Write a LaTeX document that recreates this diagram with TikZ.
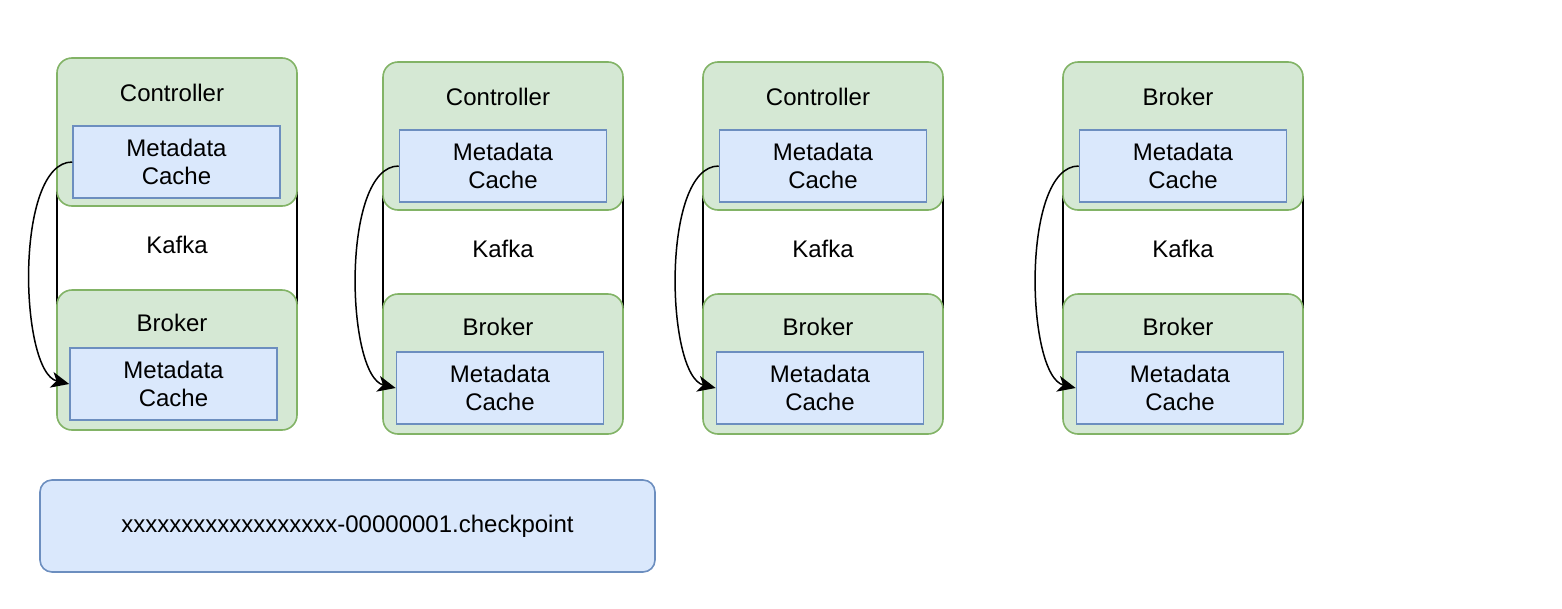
\documentclass[tikz,border=0pt]{standalone}
\usepackage{fontspec}
\setmainfont{Liberation Sans}
\usetikzlibrary{arrows.meta}
\definecolor{grnfill}{HTML}{D5E8D4}
\definecolor{grnline}{HTML}{82B366}
\definecolor{bluefill}{HTML}{DAE8FC}
\definecolor{blueline}{HTML}{6C8EBF}

\begin{document}
\begin{tikzpicture}[x=1pt,y=-1pt,
  txt/.style={font=\fontsize{24}{28}\selectfont,inner sep=0pt},
  kafkabox/.style={txt,draw=black,line width=2pt,fill=white,minimum width=240pt,minimum height=200pt},
  nodebox/.style={draw=grnline,line width=1.6pt,fill=grnfill,rounded corners=15pt,minimum width=240pt},
  cachebox/.style={txt,draw=blueline,line width=1.6pt,fill=bluefill,minimum width=207pt,minimum height=72pt,align=center},
  sync/.style={line width=1.5pt,-{Stealth[length=18pt,width=16pt,inset=5pt]}}]
\useasboundingbox (0,0) rectangle (1562,608);

% group 1
\node[kafkabox] (kafka1) at (177,245) {Kafka};
\node[nodebox,minimum height=148pt] (top1) at (177,132) {};
\node[txt] (ttl1) at (172,93) {Controller};
\node[cachebox] (mtop1) at (176.5,162) {Metadata\\Cache};
\node[nodebox,minimum height=140pt] (bot1) at (177,360) {};
\node[txt] (btl1) at (172,323) {Broker};
\node[cachebox] (mbot1) at (173.5,384) {Metadata\\Cache};
\draw[sync] (mtop1.west) .. controls +(-58,0) and +(-50,-12) .. (mbot1.west);

% group 2
\node[kafkabox] (kafka2) at (503,249) {Kafka};
\node[nodebox,minimum height=148pt] (top2) at (503,136) {};
\node[txt] (ttl2) at (498,97) {Controller};
\node[cachebox] (mtop2) at (503,166) {Metadata\\Cache};
\node[nodebox,minimum height=140pt] (bot2) at (503,364) {};
\node[txt] (btl2) at (498,327) {Broker};
\node[cachebox] (mbot2) at (500,388) {Metadata\\Cache};
\draw[sync] (mtop2.west) .. controls +(-58,0) and +(-50,-12) .. (mbot2.west);

% group 3
\node[kafkabox] (kafka3) at (823,249) {Kafka};
\node[nodebox,minimum height=148pt] (top3) at (823,136) {};
\node[txt] (ttl3) at (818,97) {Controller};
\node[cachebox] (mtop3) at (823,166) {Metadata\\Cache};
\node[nodebox,minimum height=140pt] (bot3) at (823,364) {};
\node[txt] (btl3) at (818,327) {Broker};
\node[cachebox] (mbot3) at (820,388) {Metadata\\Cache};
\draw[sync] (mtop3.west) .. controls +(-58,0) and +(-50,-12) .. (mbot3.west);

% group 4
\node[kafkabox] (kafka4) at (1183,249) {Kafka};
\node[nodebox,minimum height=148pt] (top4) at (1183,136) {};
\node[txt] (ttl4) at (1178,97) {Broker};
\node[cachebox] (mtop4) at (1183,166) {Metadata\\Cache};
\node[nodebox,minimum height=140pt] (bot4) at (1183,364) {};
\node[txt] (btl4) at (1178,327) {Broker};
\node[cachebox] (mbot4) at (1180,388) {Metadata\\Cache};
\draw[sync] (mtop4.west) .. controls +(-58,0) and +(-50,-12) .. (mbot4.west);

% checkpoint file
\node[txt,draw=blueline,line width=1.6pt,fill=bluefill,rounded corners=12pt,minimum width=615pt,minimum height=92pt] (chk) at (347.5,526) {xxxxxxxxxxxxxxxxxx-00000001.checkpoint};
\end{tikzpicture}
\end{document}
